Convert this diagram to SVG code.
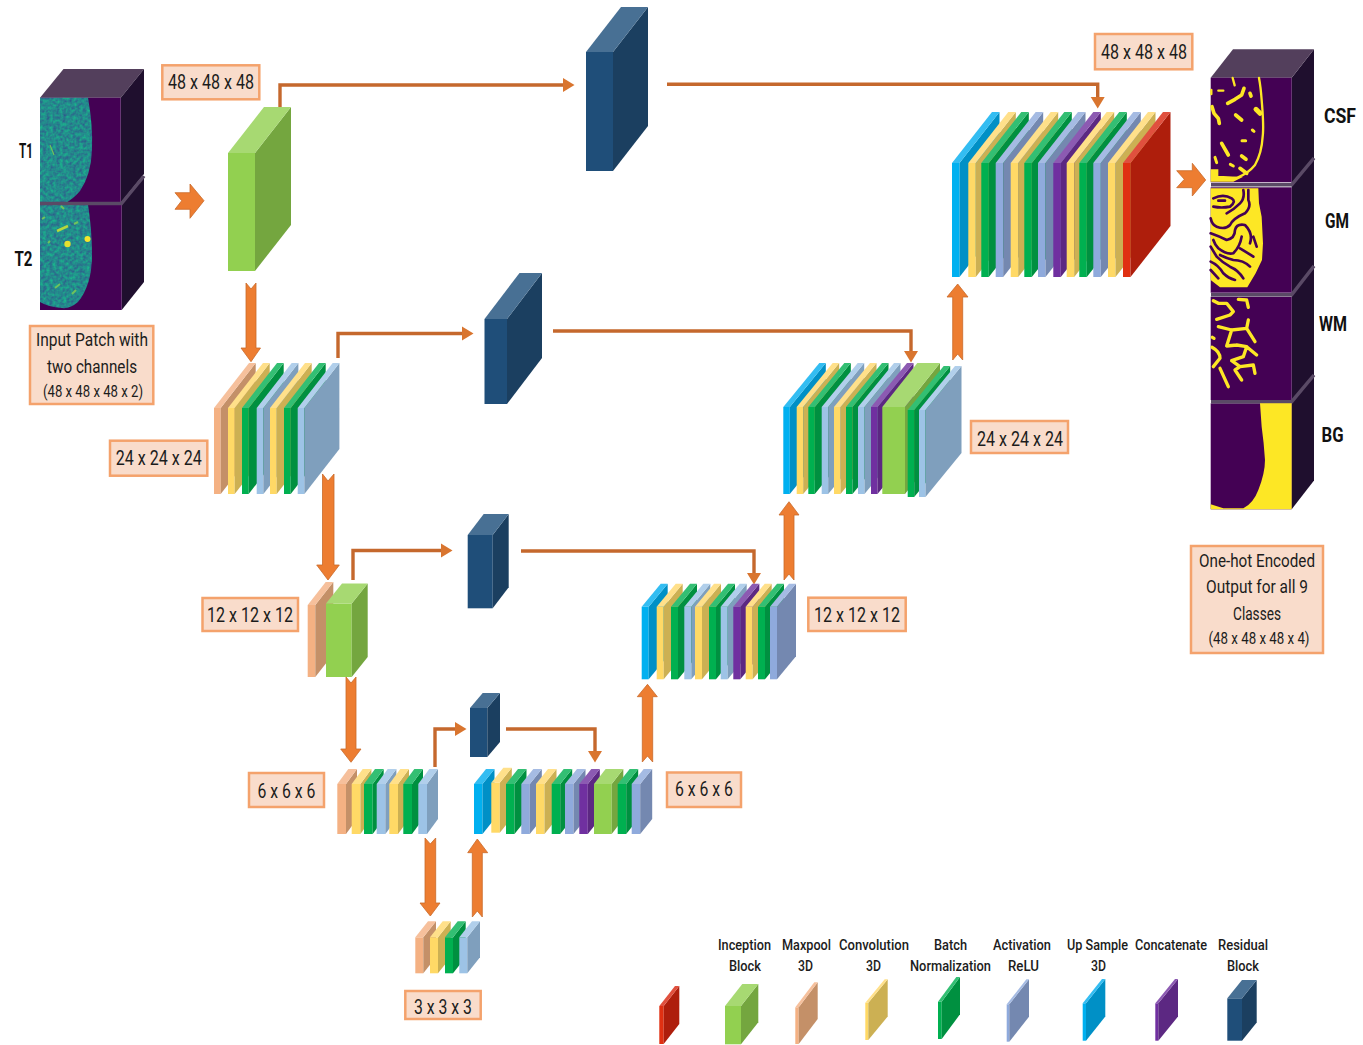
<svg xmlns="http://www.w3.org/2000/svg" width="1363" height="1045" viewBox="0 0 1363 1045">
<style>
text{font-family:Roboto,"Liberation Sans",sans-serif;fill:#1c1c1c;text-anchor:middle}
.lg{font-size:15px;font-weight:500}
.bx{font-size:21px}
.cap{font-size:18px}
.nm{font-size:21px;font-weight:700;fill:#111}
.box{fill:#f9dccb;stroke:#f4a26c;stroke-width:2.5}
.f{fill:var(--f)}.s{fill:var(--s)}.t{fill:var(--t)}
.up{--f:#00b0f0;--s:#0090c6;--t:#33bdf2}
.cv{--f:#ffd966;--s:#ccb053;--t:#ffe08a}
.bn{--f:#00b050;--s:#009040;--t:#33bf73}
.r1{--f:#8faadc;--s:#7488b0;--t:#a5bbe3}
.r2{--f:#9dc3e6;--s:#7f9fbd;--t:#b1cfeb}
.cc{--f:#7030a0;--s:#5c2882;--t:#8c5ab2}
.rd{--f:#e03012;--s:#ae1e0c;--t:#e0503e}
.mp{--f:#f4b183;--s:#c49068;--t:#f6c09c}
.ib{--f:#92d050;--s:#74a63f;--t:#a7d972}
.rs{--f:#1f4e79;--s:#1b3f60;--t:#487094}
.ba{fill:#ed7d31;stroke:#c96a2a;stroke-width:.8}
.ln{fill:none;stroke:#c5682d;stroke-width:3.4}
.fr{fill:#440154}.sd{fill:#1f0f2e}.tp{fill:#533f5c}
.sep{fill:none;stroke:#5a4a66;stroke-width:3.5}
.y{fill:none;stroke:#fde725;stroke-linejoin:round;stroke-linecap:round}
.p{fill:none;stroke:#440154;stroke-linejoin:round;stroke-linecap:round;stroke-width:8}
</style>
<defs>
<marker id="hd" markerUnits="userSpaceOnUse" markerWidth="12" markerHeight="16" refX="0" refY="8" orient="auto"><path d="M0 1 L11.500 8 L0 15Z" fill="#d9752f"/></marker>
<filter id="tex" x="0" y="0" width="1" height="1" color-interpolation-filters="sRGB">
<feTurbulence type="fractalNoise" baseFrequency="0.3" numOctaves="2" seed="4"/>
<feColorMatrix values="-.12 0 0 0 .2  .5 0 0 0 .29  0 0 0 0 .55  0 0 0 0 1"/>
<feComposite operator="in" in2="SourceGraphic"/>
</filter>
<g id="a48"><rect class="f" width="7.500" height="114"/><polygon class="s" points="7.500,0 47.500,-51 47.500,63 7.500,114"/><polygon class="t" points="0,0 40,-51 47.500,-51 7.500,0"/></g>
<g id="a24L"><rect class="f" width="6.700" height="86"/><polygon class="s" points="6.700,0 41.700,-45 41.700,41 6.700,86"/><polygon class="t" points="0,0 35,-45 41.700,-45 6.700,0"/></g>
<g id="a24R"><rect class="f" width="6.500" height="87"/><polygon class="s" points="6.500,0 42.500,-44 42.500,43 6.500,87"/><polygon class="t" points="0,0 36,-44 42.500,-44 6.500,0"/></g>
<g id="a12"><rect class="f" width="7" height="72.600"/><polygon class="s" points="7,0 26,-23 26,49.600 7,72.600"/><polygon class="t" points="0,0 19,-23 26,-23 7,0"/></g>
<g id="a6L"><rect class="f" width="8.700" height="50"/><polygon class="s" points="8.700,0 19.700,-15 19.700,35 8.700,50"/><polygon class="t" points="0,0 11,-15 19.700,-15 8.700,0"/></g>
<g id="a6R"><rect class="f" width="8.500" height="50"/><polygon class="s" points="8.500,0 20.500,-15 20.500,35 8.500,50"/><polygon class="t" points="0,0 12,-15 20.500,-15 8.500,0"/></g>
<g id="a3"><rect class="f" width="8" height="36"/><polygon class="s" points="8,0 20.700,-16 20.700,20 8,36"/><polygon class="t" points="0,0 12.700,-16 20.700,-16 8,0"/></g>
</defs>

<g id="connectors">
<path class="ln" d="M280 108V85H563" marker-end="url(#hd)"/>
<path class="ln" d="M667 84.300H1097.700V97" marker-end="url(#hd)"/>
<path class="ln" d="M338 358V333.500H462" marker-end="url(#hd)"/>
<path class="ln" d="M553 331H911V351" marker-end="url(#hd)"/>
<path class="ln" d="M353 580V550.500H441" marker-end="url(#hd)"/>
<path class="ln" d="M521 551H754V573" marker-end="url(#hd)"/>
<path class="ln" d="M435 767V729H455" marker-end="url(#hd)"/>
<path class="ln" d="M506 729H595V751" marker-end="url(#hd)"/>
<polygon class="ba" points="175,192.700 190,192.700 190,184 204,200.700 190,218.300 190,209.300 175,209.300 181.700,200.700"/>
<polygon class="ba" points="1176.700,170.700 1192.300,170.700 1192.300,163.300 1205.700,180 1192.300,196 1192.300,187.700 1176.700,187.700 1184.300,179.300"/>
<polygon class="ba" points="246,283 251,289 256,283 256,348 260.500,348 251,361.700 241,348 246,348"/>
<polygon class="ba" points="322.500,474 328,481 334,474 334,565 339.300,565 328,580 316.700,565 322.500,565"/>
<polygon class="ba" points="346,677 351,683 356,677 356,749 361,749 351,762.300 340.700,749 346,749"/>
<polygon class="ba" points="425,838 430.300,844 435.700,838 435.700,903 440,903 430.300,916 420,903 425,903"/>
<polygon class="ba" points="472.300,917 477.300,911 482.300,917 482.300,852.700 487.700,852.700 477.300,839 467.700,852.700 472.300,852.700"/>
<polygon class="ba" points="642.300,762 647.500,756 652.700,762 652.700,696.700 657.300,696.700 647.500,684.300 637.300,696.700 642.300,696.700"/>
<polygon class="ba" points="784,580 789,574 794,580 794,515 799,515 789,501.700 779,515 784,515"/>
<polygon class="ba" points="952.700,360 957.700,354 962.700,360 962.700,297 968,297 957.700,284 947,297 952.700,297"/>
</g>

<g id="input-t1">
<polygon class="tp" points="40,97.700 63.500,69 144,69 120.700,97.700"/>
<polygon class="sd" points="120.700,97.700 144,69 144,174 120.700,203"/>
<rect class="fr" x="40" y="97.700" width="80.700" height="105"/>
<path d="M40 97.700H88Q93 125 92 150Q91 175 80 191Q73 199 66 202.700H40Z" filter="url(#tex)"/>
<path d="M50 145L54 155" stroke="#6fc35c" stroke-width="1.200" fill="none"/>
</g>
<g id="input-t2">
<polygon class="sd" points="121.700,204 144,176 144,282 121.700,310"/>
<rect class="fr" x="40" y="204.500" width="81.700" height="105.500"/>
<path d="M40 204.500H88Q92 230 92 255Q92 285 78 302Q70 309 62 308Q48 307 40 302Z" filter="url(#tex)"/>
<path d="M120.700 204.500L144 176M40 203.500H121" class="sep"/>
<circle cx="87.500" cy="239" r="3" fill="#f4e52c"/><circle cx="67.500" cy="244" r="3.200" fill="#e4e02e"/>
<path d="M57 231L68 226" stroke="#b6d83c" stroke-width="2.500" fill="none"/>
<path d="M42 219L45 217M61 206L64 209M74 224L78 222M48 243L50 241M55 288L60 284M72 294L76 290" stroke="#6fc35c" stroke-width="2" fill="none"/>
</g>

<g id="block-inception-48" class="ib"><rect class="f" x="228" y="153" width="27" height="118"/><polygon class="s" points="255,153 291,107 291,225 255,271"/><polygon class="t" points="228,153 264,107 291,107 255,153"/></g>
<g id="block-residual-48" class="rs"><rect class="f" x="586" y="52" width="27" height="119"/><polygon class="s" points="613,52 648,7 648,126 613,171"/><polygon class="t" points="586,52 621,7 648,7 613,52"/></g>
<g id="block-residual-24" class="rs"><rect class="f" x="484.500" y="319" width="22.500" height="85"/><polygon class="s" points="507,319 542,273 542,358 507,404"/><polygon class="t" points="484.500,319 519.500,273 542,273 507,319"/></g>
<g id="block-residual-12" class="rs"><rect class="f" x="467.700" y="535" width="25" height="73.300"/><polygon class="s" points="492.700,535 508.700,514 508.700,587.300 492.700,608.300"/><polygon class="t" points="467.700,535 483.700,514 508.700,514 492.700,535"/></g>
<g id="block-residual-6" class="rs"><rect class="f" x="470" y="708" width="17.300" height="49"/><polygon class="s" points="487.300,708 500,693 500,742 487.300,757"/><polygon class="t" points="470,708 482.700,693 500,693 487.300,708"/></g>

<g id="stack-24-left">
<use href="#a24L" x="214" y="408" class="mp"/><use href="#a24L" x="228" y="408" class="cv"/><use href="#a24L" x="242" y="408" class="bn"/><use href="#a24L" x="256.700" y="408" class="r2"/><use href="#a24L" x="270" y="408" class="cv"/><use href="#a24L" x="284" y="408" class="bn"/><use href="#a24L" x="297.700" y="408" class="r2"/>
</g>
<g id="stack-12-left">
<g class="mp"><rect class="f" x="307.700" y="605" width="7.600" height="72"/><polygon class="s" points="315.300,605 333.300,582 333.300,654 315.300,677"/><polygon class="t" points="307.700,605 325.700,582 333.300,582 315.300,605"/></g>
<g class="ib"><rect class="f" x="326" y="603.500" width="25.700" height="73.500"/><polygon class="s" points="351.700,603.500 367.700,583.500 367.700,657 351.700,677"/><polygon class="t" points="326,603.500 342,583.500 367.700,583.500 351.700,603.500"/></g>
</g>
<g id="stack-6-left">
<use href="#a6L" x="337.300" y="784" class="mp"/><use href="#a6L" x="351.700" y="784" class="cv"/><use href="#a6L" x="364" y="784" class="bn"/><use href="#a6L" x="376.700" y="784" class="r2"/><use href="#a6L" x="389.300" y="784" class="cv"/><use href="#a6L" x="403.300" y="784" class="bn"/><use href="#a6L" x="418.300" y="784" class="r2"/>
</g>
<g id="stack-3">
<use href="#a3" x="415.300" y="937.300" class="mp"/><use href="#a3" x="430" y="937.300" class="cv"/><use href="#a3" x="445" y="937.300" class="bn"/><use href="#a3" x="459.300" y="937.300" class="r2"/>
</g>
<g id="stack-6-right">
<use href="#a6R" x="474" y="784" class="up"/><use href="#a6R" x="491.300" y="782.700" class="cv"/><use href="#a6R" x="506" y="784" class="bn"/><use href="#a6R" x="521.300" y="784" class="r1"/><use href="#a6R" x="536" y="784" class="cv"/><use href="#a6R" x="551.700" y="784" class="bn"/><use href="#a6R" x="565" y="784" class="r1"/><use href="#a6R" x="579.300" y="784" class="cc"/>
<g class="ib"><rect class="f" x="594" y="784" width="17.700" height="50"/><polygon class="s" points="611.700,784 623.300,769 623.300,819 611.700,834"/><polygon class="t" points="594,784 605.600,769 623.300,769 611.700,784"/></g>
<use href="#a6R" x="617.700" y="784" class="bn"/><use href="#a6R" x="631.700" y="784" class="r1"/>
</g>
<g id="stack-12-right">
<use href="#a12" x="641.700" y="606.700" class="up"/><use href="#a12" x="656.700" y="606.700" class="cv"/><use href="#a12" x="671" y="606.700" class="bn"/><use href="#a12" x="684.300" y="606.700" class="r2"/><use href="#a12" x="695" y="606.700" class="cv"/><use href="#a12" x="709" y="606.700" class="bn"/><use href="#a12" x="720.700" y="606.700" class="r2"/><use href="#a12" x="733.300" y="606.700" class="cc"/><use href="#a12" x="745.700" y="606.700" class="cv"/><use href="#a12" x="758" y="606.700" class="bn"/><use href="#a12" x="770" y="606.700" class="r1"/>
</g>
<g id="stack-24-right">
<use href="#a24R" x="783.300" y="407" class="up"/><use href="#a24R" x="796.700" y="407" class="cv"/><use href="#a24R" x="808.300" y="407" class="bn"/><use href="#a24R" x="821.700" y="407" class="r2"/><use href="#a24R" x="834" y="407" class="cv"/><use href="#a24R" x="846" y="407" class="bn"/><use href="#a24R" x="858" y="407" class="r2"/><use href="#a24R" x="871" y="407" class="cc"/>
<g class="ib"><rect class="f" x="882.300" y="407" width="22.700" height="87"/><polygon class="s" points="905,407 940,363 940,450 905,494"/><polygon class="t" points="882.300,407 917.300,363 940,363 905,407"/></g>
<use href="#a24R" x="907.700" y="410" class="bn"/><use href="#a24R" x="919" y="410" class="r2"/>
</g>
<g id="stack-48-right">
<use href="#a48" x="952" y="163" class="up"/><use href="#a48" x="968.300" y="163" class="cv"/><use href="#a48" x="981.300" y="163" class="bn"/><use href="#a48" x="995.700" y="163" class="r1"/><use href="#a48" x="1010.700" y="163" class="cv"/><use href="#a48" x="1024.300" y="163" class="bn"/><use href="#a48" x="1038" y="163" class="r1"/><use href="#a48" x="1053.300" y="163" class="cc"/><use href="#a48" x="1066.700" y="163" class="cv"/><use href="#a48" x="1079.300" y="163" class="bn"/><use href="#a48" x="1093.300" y="163" class="r1"/><use href="#a48" x="1108" y="163" class="cv"/><use href="#a48" x="1123" y="163" class="rd"/>
</g>

<g id="output-cubes">
<polygon class="sd" points="1291.700,77.700 1314,49.300 1314,480.500 1291.700,509.300"/>
<polygon class="tp" points="1210.700,77.700 1233,49.300 1314,49.300 1291.700,77.700"/>
<rect class="fr" x="1210.700" y="77.700" width="81" height="104.600"/>
<rect class="fr" x="1210.700" y="187.300" width="81" height="105.400"/>
<rect class="fr" x="1210.700" y="296.700" width="81" height="103.300"/>
<rect class="fr" x="1210.700" y="403.300" width="81" height="106"/>
<path class="sep" d="M1211 184.800H1291.700L1314 158M1211 294.800H1291.700L1314 266M1211 401.700H1291.700L1314 375"/>
</g>
<g id="mask-csf" transform="translate(1190 70) scale(.3333)">
<path d="M62 298H85V318H100L140 320L160 320L130 335H62Z" fill="#fde725"/>
<path class="y" stroke-width="7" d="M128 24L134 46M207 24Q212 50 215 90Q222 170 218 200Q215 250 195 285Q175 310 140 324L100 326M85 62H100M64 60V72"/>
<path class="y" stroke-width="11" d="M113 100L135 88L155 75L162 55M66 110L72 130L85 145L88 160M137 135L155 150M180 70L183 78M155 258L168 268M95 220L115 255M150 295L170 310"/>
<path class="y" stroke-width="15" d="M198 118L210 130"/>
<path class="y" stroke-width="9" d="M187 180L192 184M156 212L167 212M121 283L130 288M75 262L80 278"/>
</g>
<g id="mask-gm" transform="translate(1190 70) scale(.3333)">
<path d="M62 355H205L207 400L215 440L219 520L216 570L197 610L172 652H90L62 630Z" fill="#fde725"/>
<path class="p" d="M70 385Q100 370 125 385Q140 395 120 410Q95 415 70 410M85 392H105M160 360Q165 385 150 400Q130 420 110 430M175 360V390Q185 410 165 430Q130 445 120 465Q105 480 80 470Q66 465 62 445M62 490Q90 500 110 510Q135 505 135 480Q140 460 165 465Q190 490 180 520M155 500Q150 530 130 550Q110 555 85 535Q75 525 70 510M190 500L200 530M62 530L80 560Q100 580 120 590Q145 600 160 625M90 555Q110 565 130 570Q160 570 180 590M150 535Q175 550 190 560M62 575Q85 585 100 610Q115 625 135 630M62 600L85 625"/>
</g>
<g id="mask-wm" transform="translate(1190 270) scale(.3333)">
<path class="y" stroke-width="10" d="M70 92L85 100L110 100L130 125L120 135L80 148M145 88L170 90L175 112M85 170L125 180L110 228L140 225M175 150L170 175L125 180M170 175L195 215M140 225L170 230L160 260L125 272L150 290L135 300L155 330M170 230L200 255M150 290L190 285L195 310M66 232Q90 245 90 265L70 290M90 295L115 350M67 202L72 205"/>
</g>
<path id="mask-bg" transform="translate(1190 270) scale(.3333)" d="M210 400H305V718H62V703L100 715H160Q190 700 205 660Q225 610 225 570Q222 520 215 470Z" fill="#fde725"/>

<g id="label-48-left"><rect class="box" x="162.300" y="65.300" width="97" height="34"/><text class="bx" x="211" y="89" textLength="86" lengthAdjust="spacingAndGlyphs">48 x 48 x 48</text></g>
<g id="label-input"><rect class="box" x="30" y="326" width="123.300" height="78"/><text class="cap" x="92" y="346" textLength="112" lengthAdjust="spacingAndGlyphs">Input Patch with</text><text class="cap" x="92" y="373" textLength="90" lengthAdjust="spacingAndGlyphs">two channels</text><text class="cap" style="font-size:16px" x="93" y="397" textLength="100" lengthAdjust="spacingAndGlyphs">(48 x 48 x 48 x 2)</text></g>
<g id="label-24-left"><rect class="box" x="110" y="440.700" width="97.300" height="35"/><text class="bx" x="158.700" y="465" textLength="86" lengthAdjust="spacingAndGlyphs">24 x 24 x 24</text></g>
<g id="label-12-left"><rect class="box" x="202.500" y="598" width="95.500" height="33"/><text class="bx" x="250" y="622" textLength="86" lengthAdjust="spacingAndGlyphs">12 x 12 x 12</text></g>
<g id="label-6-left"><rect class="box" x="249" y="773" width="75" height="34"/><text class="bx" x="286.500" y="798" textLength="58" lengthAdjust="spacingAndGlyphs">6 x 6 x 6</text></g>
<g id="label-3"><rect class="box" x="405.300" y="991" width="75.400" height="28"/><text class="bx" x="443" y="1014" textLength="58" lengthAdjust="spacingAndGlyphs">3 x 3 x 3</text></g>
<g id="label-6-right"><rect class="box" x="667" y="772.500" width="74" height="34.500"/><text class="bx" x="704" y="796" textLength="58" lengthAdjust="spacingAndGlyphs">6 x 6 x 6</text></g>
<g id="label-12-right"><rect class="box" x="808.300" y="597.700" width="97.400" height="33.300"/><text class="bx" x="857" y="622" textLength="86" lengthAdjust="spacingAndGlyphs">12 x 12 x 12</text></g>
<g id="label-24-right"><rect class="box" x="971" y="421" width="97" height="32"/><text class="bx" x="1020" y="446" textLength="86" lengthAdjust="spacingAndGlyphs">24 x 24 x 24</text></g>
<g id="label-48-right"><rect class="box" x="1095" y="34" width="97.300" height="35.300"/><text class="bx" x="1144" y="59" textLength="86" lengthAdjust="spacingAndGlyphs">48 x 48 x 48</text></g>
<g id="label-output"><rect class="box" x="1191" y="546" width="132" height="107"/><text class="cap" x="1257" y="567" textLength="116" lengthAdjust="spacingAndGlyphs">One-hot Encoded</text><text class="cap" x="1257" y="593" textLength="102" lengthAdjust="spacingAndGlyphs">Output for all 9</text><text class="cap" x="1257" y="620" textLength="48" lengthAdjust="spacingAndGlyphs">Classes</text><text class="cap" style="font-size:16px" x="1259" y="644" textLength="101" lengthAdjust="spacingAndGlyphs">(48 x 48 x 48 x 4)</text></g>

<g id="names">
<text class="nm" x="26" y="158" textLength="14" lengthAdjust="spacingAndGlyphs">T1</text>
<text class="nm" x="23.500" y="266" textLength="18" lengthAdjust="spacingAndGlyphs">T2</text>
<text class="nm" x="1340" y="123" textLength="32" lengthAdjust="spacingAndGlyphs">CSF</text>
<text class="nm" x="1337" y="228" textLength="24" lengthAdjust="spacingAndGlyphs">GM</text>
<text class="nm" x="1333" y="331" textLength="28" lengthAdjust="spacingAndGlyphs">WM</text>
<text class="nm" x="1332.500" y="442" textLength="22" lengthAdjust="spacingAndGlyphs">BG</text>
</g>

<g id="legend-residual-output" class="rd"><rect class="f" x="659.300" y="1006" width="4.400" height="38"/><polygon class="s" points="663.700,1006 679.300,986 679.300,1024 663.700,1044"/><polygon class="t" points="659.300,1006 675,986 679.300,986 663.700,1006"/></g>
<g id="legend-inception" class="ib"><text class="lg" x="744.500" y="950" textLength="53" lengthAdjust="spacingAndGlyphs">Inception</text><text class="lg" x="745" y="971" textLength="32" lengthAdjust="spacingAndGlyphs">Block</text><rect class="f" x="725" y="1006" width="16" height="38.300"/><polygon class="s" points="741,1006 758.300,984 758.300,1022.300 741,1044.300"/><polygon class="t" points="725,1006 742.300,984 758.300,984 741,1006"/></g>
<g id="legend-maxpool" class="mp"><text class="lg" x="806.500" y="950" textLength="49" lengthAdjust="spacingAndGlyphs">Maxpool</text><text class="lg" x="805.500" y="971" textLength="15" lengthAdjust="spacingAndGlyphs">3D</text><rect class="f" x="795.300" y="1007.300" width="3.400" height="36.700"/><polygon class="s" points="798.700,1007.300 817.700,982.300 817.700,1019 798.700,1044"/><polygon class="t" points="795.300,1007.300 814.300,982.300 817.700,982.300 798.700,1007.300"/></g>
<g id="legend-convolution" class="cv"><text class="lg" x="874" y="950" textLength="70" lengthAdjust="spacingAndGlyphs">Convolution</text><text class="lg" x="873.500" y="971" textLength="15" lengthAdjust="spacingAndGlyphs">3D</text><rect class="f" x="865.300" y="1002.700" width="3" height="37.300"/><polygon class="s" points="868.300,1002.700 887.700,979.300 887.700,1016.600 868.300,1040"/><polygon class="t" points="865.300,1002.700 884.700,979.300 887.700,979.300 868.300,1002.700"/></g>
<g id="legend-batch-norm" class="bn"><text class="lg" x="950.500" y="950" textLength="33" lengthAdjust="spacingAndGlyphs">Batch</text><text class="lg" x="950.500" y="971" textLength="81" lengthAdjust="spacingAndGlyphs">Normalization</text><rect class="f" x="938" y="1001.700" width="3.700" height="37.300"/><polygon class="s" points="941.700,1001.700 960,977 960,1014.300 941.700,1039"/><polygon class="t" points="938,1001.700 956.300,977 960,977 941.700,1001.700"/></g>
<g id="legend-relu" class="r1"><text class="lg" x="1022" y="950" textLength="58" lengthAdjust="spacingAndGlyphs">Activation</text><text class="lg" x="1023.500" y="971" textLength="31" lengthAdjust="spacingAndGlyphs">ReLU</text><rect class="f" x="1006.700" y="1004.300" width="2.600" height="37.400"/><polygon class="s" points="1009.300,1004.300 1029,979.300 1029,1016.700 1009.300,1041.700"/><polygon class="t" points="1006.700,1004.300 1026.400,979.300 1029,979.300 1009.300,1004.300"/></g>
<g id="legend-upsample" class="up"><text class="lg" x="1097.500" y="950" textLength="61" lengthAdjust="spacingAndGlyphs">Up Sample</text><text class="lg" x="1098.500" y="971" textLength="15" lengthAdjust="spacingAndGlyphs">3D</text><rect class="f" x="1082.700" y="1003.300" width="3.300" height="37.400"/><polygon class="s" points="1086,1003.300 1105.300,979 1105.300,1016.400 1086,1040.700"/><polygon class="t" points="1082.700,1003.300 1102,979 1105.300,979 1086,1003.300"/></g>
<g id="legend-concatenate" class="cc"><text class="lg" x="1171" y="950" textLength="72" lengthAdjust="spacingAndGlyphs">Concatenate</text><rect class="f" x="1155.300" y="1003.300" width="3" height="37.400"/><polygon class="s" points="1158.300,1003.300 1178,979 1178,1016.400 1158.300,1040.700"/><polygon class="t" points="1155.300,1003.300 1175,979 1178,979 1158.300,1003.300"/></g>
<g id="legend-residual" class="rs"><text class="lg" x="1243" y="950" textLength="50" lengthAdjust="spacingAndGlyphs">Residual</text><text class="lg" x="1243" y="971" textLength="32" lengthAdjust="spacingAndGlyphs">Block</text><rect class="f" x="1227.300" y="998.300" width="14.700" height="42.400"/><polygon class="s" points="1242,998.300 1256.700,980 1256.700,1022.400 1242,1040.700"/><polygon class="t" points="1227.300,998.300 1242,980 1256.700,980 1242,998.300"/></g>
</svg>
